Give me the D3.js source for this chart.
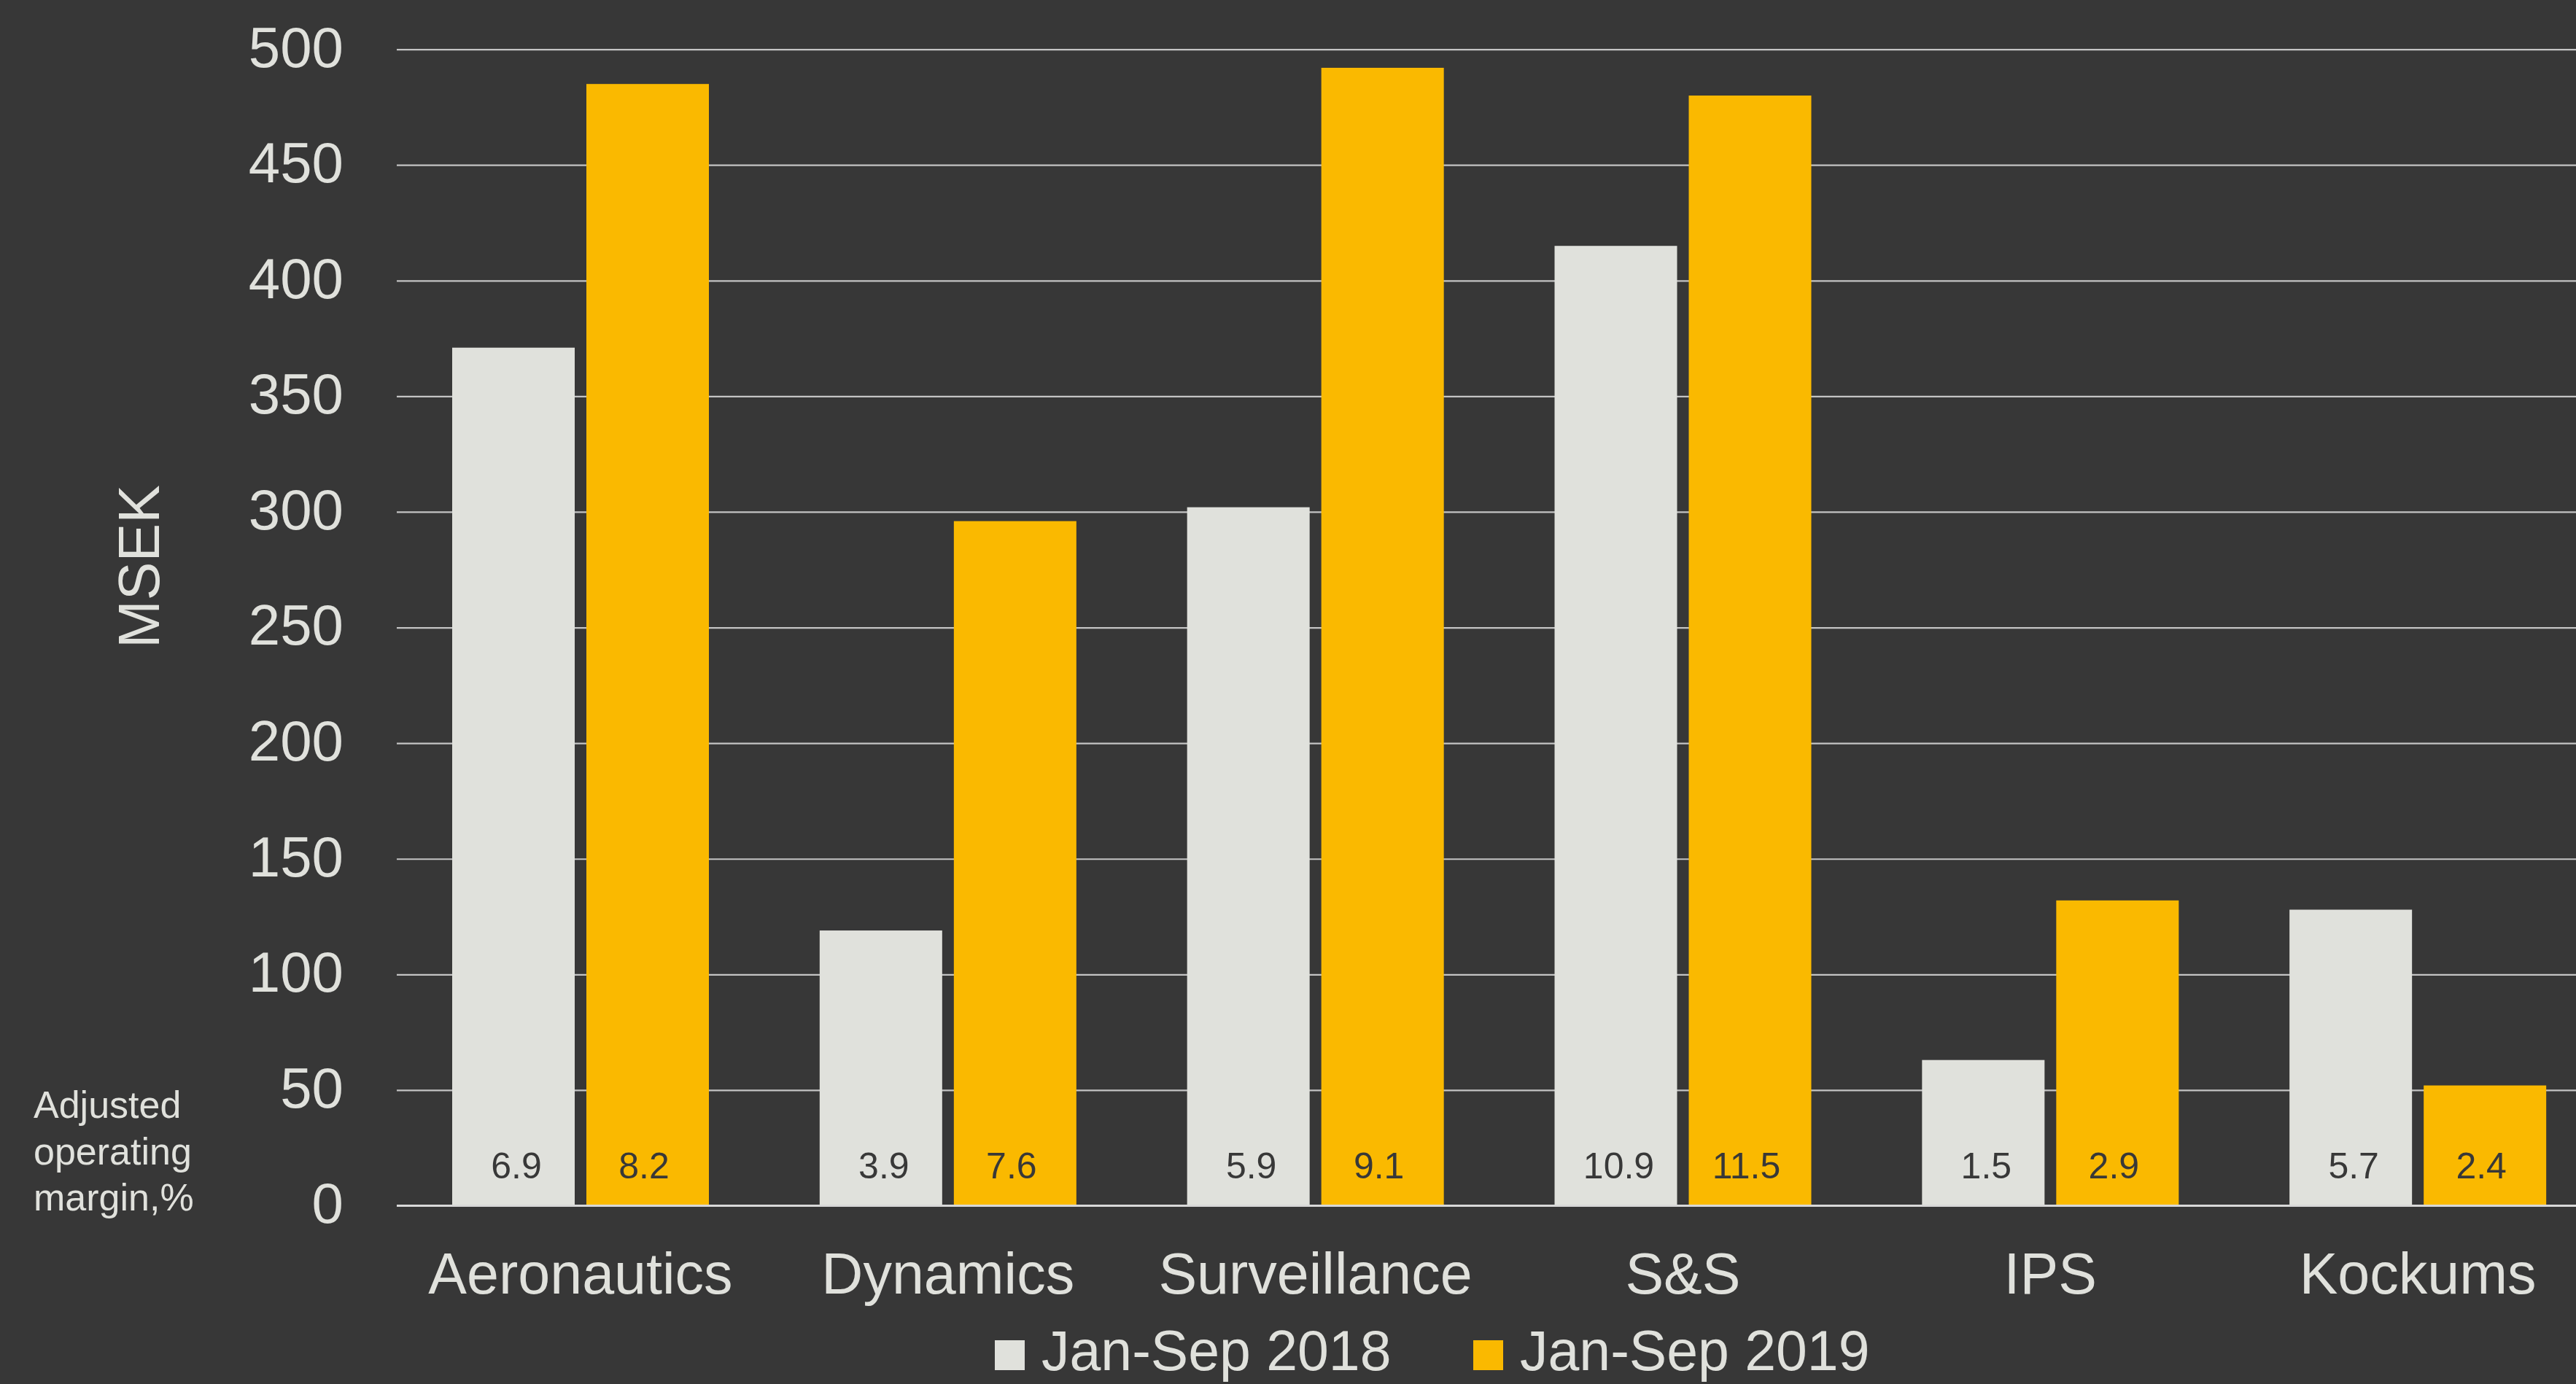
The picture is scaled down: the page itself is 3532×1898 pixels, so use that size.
<!DOCTYPE html>
<html>
<head>
<meta charset="utf-8">
<script src="https://cdn.jsdelivr.net/npm/d3@7"></script>
<style>
  html, body { margin: 0; padding: 0; background: #373737; }
  svg { display: block; }
  text { font-family: "Liberation Sans", Arial, sans-serif; }
</style>
</head>
<body>
<svg id="chart" width="3532" height="1898"></svg>
<script>
// ---- data ----
const categories = ["Aeronautics", "Dynamics", "Surveillance", "S&S", "IPS", "Kockums"];
const seriesNames = ["Jan-Sep 2018", "Jan-Sep 2019"];
const values2018 = [371, 119, 302, 415, 63, 128];
const values2019 = [485, 296, 492, 480, 132, 52];
const margin2018 = ["6.9", "3.9", "5.9", "10.9", "1.5", "5.7"];
const margin2019 = ["8.2", "7.6", "9.1", "11.5", "2.9", "2.4"];
const yTicks = [0, 50, 100, 150, 200, 250, 300, 350, 400, 450, 500];

// ---- styles ----
const BG = "#373737";
const TXT = "#E0E1DC";
const COLORS = ["#E0E1DC", "#FAB900"];
const LABEL_SHIFT = [4, -5];
const GRID = "#C4C4C4";

const W = 3532, H = 1898;
const plotLeft = 544, plotRight = 3567;
const yBottom = 1653.5, yTop = 67.6;

const svg = d3.select("#chart");
svg.append("rect").attr("width", W).attr("height", H).attr("fill", BG);

const x0 = d3.scaleBand().domain(categories).range([plotLeft, plotRight]).padding(0);
const x1 = d3.scaleBand().domain(seriesNames).range([76, 428]).paddingInner(16 / 184).paddingOuter(0);
const y = d3.scaleLinear().domain([0, 500]).range([yBottom, yTop]);

// gridlines
const grid = svg.append("g").attr("transform", `translate(${plotLeft},0)`)
  .call(d3.axisLeft(y).tickValues(yTicks).tickSize(-(W - plotLeft)).tickFormat(""));
grid.select(".domain").remove();
grid.selectAll("line").attr("stroke", GRID).attr("stroke-width", 2.2);

// y tick labels
const yAxis = svg.append("g").attr("transform", `translate(471,0)`)
  .call(d3.axisLeft(y).tickValues(yTicks).tickSize(0).tickPadding(0));
yAxis.select(".domain").remove();
yAxis.selectAll("text")
  .attr("fill", TXT).attr("font-size", 78).attr("dy", "0.30em")
  .style("font-family", "'Liberation Sans', Arial, sans-serif");

// bars
const rows = categories.map((c, i) => ({
  cat: c,
  vals: [
    { s: seriesNames[0], v: values2018[i], m: margin2018[i], k: 0 },
    { s: seriesNames[1], v: values2019[i], m: margin2019[i], k: 1 }
  ]
}));

const groups = svg.append("g").selectAll("g").data(rows).join("g")
  .attr("transform", d => `translate(${x0(d.cat)},0)`);

groups.selectAll("rect").data(d => d.vals).join("rect")
  .attr("x", d => x1(d.s))
  .attr("width", x1.bandwidth())
  .attr("y", d => y(d.v))
  .attr("height", d => y(0) - y(d.v))
  .attr("fill", d => COLORS[d.k]);

// margin labels inside bars
groups.selectAll("text.m").data(d => d.vals).join("text")
  .attr("class", "m")
  .attr("x", d => x1(d.s) + x1.bandwidth() / 2 + LABEL_SHIFT[d.k])
  .attr("y", 1616)
  .attr("text-anchor", "middle")
  .attr("font-size", 50)
  .attr("fill", "#383838")
  .text(d => d.m);

// baseline
svg.append("line").attr("x1", plotLeft).attr("x2", W).attr("y1", y(0)).attr("y2", y(0))
  .attr("stroke", "#D8D8D8").attr("stroke-width", 3);

// x axis labels
const xAxis = svg.append("g").attr("transform", `translate(0,${yBottom})`)
  .call(d3.axisBottom(x0).tickSize(0).tickPadding(0));
xAxis.select(".domain").remove();
xAxis.selectAll("text")
  .attr("fill", TXT).attr("font-size", 79).attr("dy", 0).attr("y", 120)
  .style("font-family", "'Liberation Sans', Arial, sans-serif");

// y axis title
svg.append("text")
  .attr("transform", `translate(218,777) rotate(-90)`)
  .attr("text-anchor", "middle")
  .attr("font-size", 79)
  .attr("fill", TXT)
  .text("MSEK");

// left note
const note = svg.append("text").attr("font-size", 52).attr("fill", TXT);
["Adjusted", "operating", "margin,%"].forEach((t, i) => {
  note.append("tspan").attr("x", 46).attr("y", 1533 + i * 63.5).text(t);
});

// legend
const legendX = [1364, 2020];
const leg = svg.append("g").selectAll("g").data(seriesNames).join("g")
  .attr("transform", (d, i) => `translate(${legendX[i]},1838)`);
leg.append("rect").attr("width", 41).attr("height", 41).attr("fill", (d, i) => COLORS[i]);
leg.append("text").attr("x", 64).attr("y", 41).attr("font-size", 77).attr("fill", TXT).text(d => d);
</script>
</body>
</html>
